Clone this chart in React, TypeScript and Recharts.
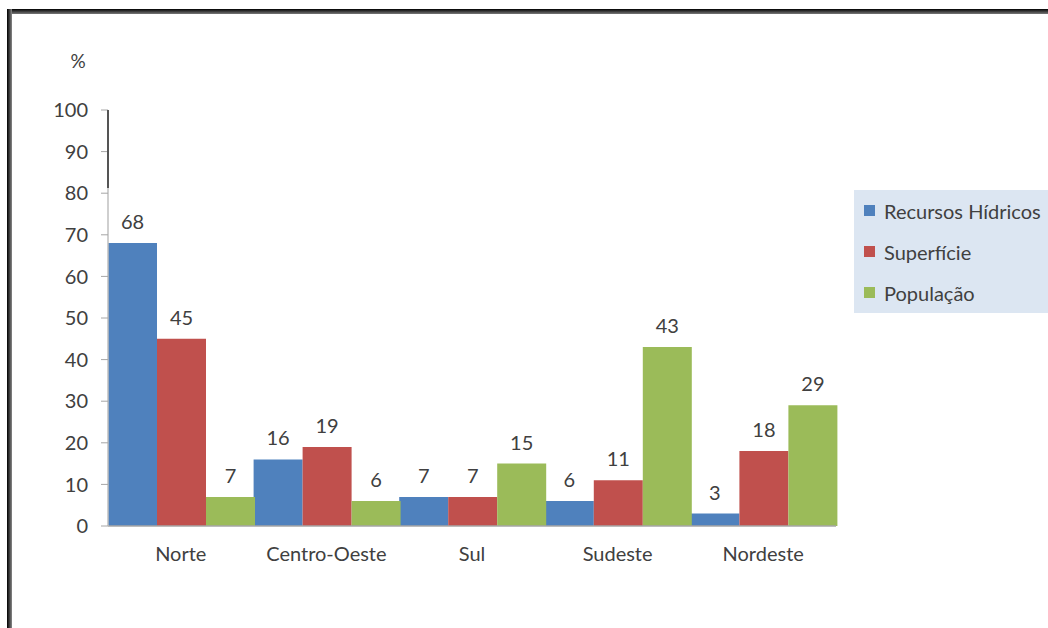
import { BarChart, Bar, XAxis, YAxis, Legend, LabelList } from 'recharts'

const regions = ['Norte', 'Centro-Oeste', 'Sul', 'Sudeste', 'Nordeste']
const recursosHidricos = [68, 16, 7, 6, 3]
const superficie = [45, 19, 7, 11, 18]
const populacao = [7, 6, 15, 43, 29]
const yTicks = [0, 10, 20, 30, 40, 50, 60, 70, 80, 90, 100]

const series = [
  { key: 'Recursos Hídricos', color: '#4F81BD' },
  { key: 'Superfície', color: '#C0504D' },
  { key: 'População', color: '#9BBB59' },
]

const data = regions.map((r, i) => ({
  name: r,
  'Recursos Hídricos': recursosHidricos[i],
  'Superfície': superficie[i],
  'População': populacao[i],
}))

const FONT = 'Lato, "Open Sans", sans-serif'
const TEXT = '#404040'

function LegendBox() {
  return (
    <div style={{ background: '#DCE6F2', width: 194, height: 123, boxSizing: 'border-box' }}>
      {series.map(s => (
        <div key={s.key} style={{ display: 'flex', alignItems: 'center', height: 41, paddingLeft: 10 }}>
          <span style={{ width: 11, height: 11, background: s.color, marginRight: 9 }} />
          <span style={{ fontFamily: FONT, fontSize: 20, color: TEXT }}>{s.key}</span>
        </div>
      ))}
    </div>
  )
}

export default function App() {
  return (
    <div style={{ position: 'absolute', left: 0, top: 0, width: 1048, height: 628, background: '#fff', overflow: 'hidden' }}>
      <BarChart
        width={1048}
        height={628}
        data={data}
        margin={{ top: 110, right: 212, left: 48, bottom: 72 }}
        barCategoryGap={0}
        barGap={0}
      >
        <XAxis
          dataKey="name"
          height={30}
          tickLine={false}
          tickSize={0}
          tickMargin={21}
          axisLine={{ stroke: '#A6A6A6', strokeWidth: 1.5 }}
          tick={{ fontSize: 20, fill: TEXT, fontFamily: FONT }}
        />
        <YAxis
          width={60}
          domain={[0, 100]}
          ticks={yTicks}
          interval={0}
          tickSize={7}
          tickMargin={13}
          axisLine={{ stroke: '#BFBFBF', strokeWidth: 1.5 }}
          tickLine={{ stroke: '#A6A6A6' }}
          tick={{ fontSize: 20, fill: TEXT, fontFamily: FONT }}
          label={{ value: '%', position: 'top', offset: 42, fontSize: 19, fill: TEXT, fontFamily: FONT }}
        />
        <Legend
          layout="vertical"
          align="center"
          verticalAlign="middle"
          content={<LegendBox />}
          wrapperStyle={{ position: 'absolute', left: 854, top: 190, width: 194, height: 123 }}
        />
        {series.map(s => (
          <Bar key={s.key} dataKey={s.key} fill={s.color} isAnimationActive={false}>
            <LabelList dataKey={s.key} position="top" offset={14} style={{ fontSize: 20, fill: TEXT, fontFamily: FONT }} />
          </Bar>
        ))}
      </BarChart>
      {/* darker overlay at top of y axis, as in the source image */}
      <div style={{ position: 'absolute', left: 107, top: 110, width: 2, height: 78, background: '#555' }} />
      {/* frame */}
      <div style={{ position: 'absolute', left: 7, top: 9, width: 1041, height: 5, background: 'linear-gradient(#000, #333 40%, #777)' }} />
      <div style={{ position: 'absolute', left: 7, top: 9, width: 5, height: 619, background: 'linear-gradient(90deg, #000, #333 40%, #888)' }} />
    </div>
  )
}
